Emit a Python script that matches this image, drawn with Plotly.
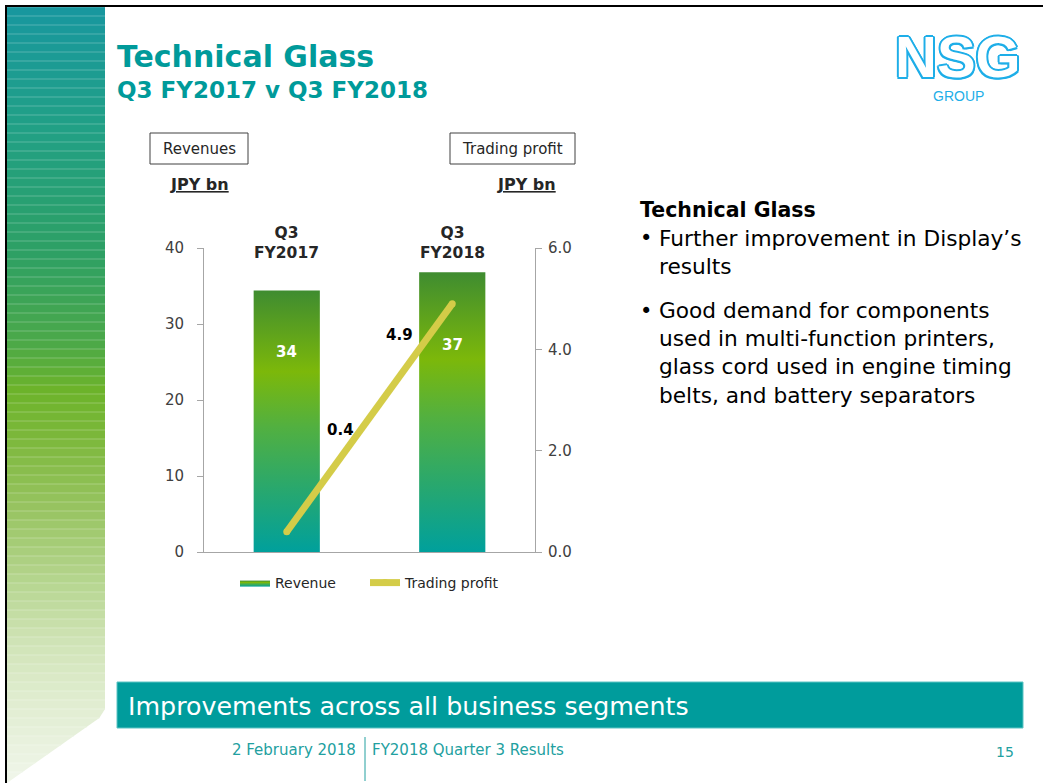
import plotly.graph_objects as go

# ── Slide data ───────────────────────────────────────────────────────────────
quarters       = ["Q3", "Q3"]
years          = ["FY2017", "FY2018"]
revenue        = [34.4, 36.8]     # JPY bn, left axis
trading_profit = [0.4, 4.9]       # JPY bn, right axis

heading = "Technical Glass"
bullets = [
    "Further improvement in Display’s<br>results",
    "Good demand for components<br>used in multi-function printers,<br>"
    "glass cord used in engine timing<br>belts, and battery separators",
]

# ── Look ─────────────────────────────────────────────────────────────────────
W, H      = 1043, 783
FONT      = "DejaVu Sans"
TEAL      = "#009a9a"
YELLOW    = "#d4cc48"
AXIS_GRAY = "#a6a6a6"
DARK      = "#262626"
LOGO_BLUE = "#1eaee8"

BAR_HALF  = 0.2
BAR_SCALE = [[0.0, "#00a09c"], [0.25, "#2aa86c"], [0.48, "#52b040"],
             [0.69, "#7cb80a"], [1.0, "#3f8c30"]]

# label offsets (px), as PowerPoint placed them
REV_SHIFT = [-61, -73]
TP_SHIFT  = [(54, 102), (-53, -31)]

# left decorative strip colour stops (pixel y, colour)
STRIP = [(7, "#18979f"), (130, "#21a085"), (250, "#2da065"), (340, "#4aa84a"),
         (390, "#6cb32a"), (440, "#7db83c"), (510, "#98c462"), (580, "#b5d58e"),
         (640, "#cfe3b5"), (700, "#e0edd0"), (783, "#f0f6ea")]


def px(x):
    return x / W


def py(y):
    return 1 - y / H


def _hex(c):
    c = c.lstrip("#")
    return [int(c[i:i + 2], 16) for i in (0, 2, 4)]


def strip_color(y, lift=0.0):
    for (y0, c0), (y1, c1) in zip(STRIP[:-1], STRIP[1:]):
        if y0 <= y <= y1:
            t = (y - y0) / (y1 - y0)
            a, b = _hex(c0), _hex(c1)
            rgb = [round((1 - t) * p + t * q) for p, q in zip(a, b)]
            rgb = [round(v + (255 - v) * lift) for v in rgb]
            return "rgb({},{},{})".format(*rgb)
    return STRIP[-1][1]


def note(text, x, y, size, color=DARK, bold=False, xanchor="left",
         yanchor="middle", family=FONT, **kw):
    return dict(
        text=f"<b>{text}</b>" if bold else text,
        x=px(x), y=py(y), xref="paper", yref="paper",
        xanchor=xanchor, yanchor=yanchor, showarrow=False, align="left",
        font=dict(size=size, color=color, family=family, **kw.pop("font", {})),
        **kw,
    )


def legend_at(x):
    return dict(orientation="h", x=px(x), y=py(583), xanchor="left",
                yanchor="middle", bgcolor="rgba(0,0,0,0)",
                font=dict(size=14, color=DARK, family=FONT))


# ── Chart ────────────────────────────────────────────────────────────────────
fig = go.Figure()

for i, v in enumerate(revenue):
    fig.add_trace(go.Scatter(
        x=[i - BAR_HALF, i - BAR_HALF, i + BAR_HALF, i + BAR_HALF, i - BAR_HALF],
        y=[0, v, v, 0, 0],
        mode="lines", line=dict(width=0), fill="toself",
        fillgradient=dict(type="vertical", colorscale=BAR_SCALE),
        name="Revenue", legendgroup="rev", showlegend=(i == 0),
        legend="legend", hoverinfo="skip",
    ))

fig.add_trace(go.Scatter(
    x=list(range(len(trading_profit))), y=trading_profit, yaxis="y2",
    mode="lines+markers", name="Trading profit", legend="legend2",
    line=dict(color=YELLOW, width=7), marker=dict(color=YELLOW, size=7),
    hovertemplate="%{y:.1f}<extra>Trading profit</extra>",
))

annotations = []

# category labels above the plot
for i, (q, y) in enumerate(zip(quarters, years)):
    annotations.append(dict(
        text=f"<b>{q}<br>{y}</b>", x=i, xref="x", y=py(222), yref="paper",
        showarrow=False, font=dict(size=15.5, color=DARK, family=FONT),
    ))

# revenue labels inside the bars
for i, (v, dy) in enumerate(zip(revenue, REV_SHIFT)):
    annotations.append(dict(
        text=f"<b>{v:.0f}</b>", x=i, y=v, xref="x", yref="y", yshift=dy,
        showarrow=False, font=dict(size=15, color="white", family=FONT),
    ))

# trading profit labels
for i, (v, (dx, dy)) in enumerate(zip(trading_profit, TP_SHIFT)):
    annotations.append(dict(
        text=f"<b>{v:.1f}</b>", x=i, y=v, xref="x", yref="y2",
        xshift=dx, yshift=dy, showarrow=False,
        font=dict(size=15, color="black", family=FONT),
    ))

# ── Slide furniture ──────────────────────────────────────────────────────────
annotations += [
    note("Technical Glass", 115, 56, 30, color=TEAL, bold=True),
    note("Q3 FY2017 v Q3 FY2018", 115, 90, 23, color=TEAL, bold=True),
    note("NSG", 958, 57, 58, color="white", bold=True, xanchor="center",
         family="Liberation Sans",
         font=dict(shadow=", ".join(f"{a}px {b}px 0 {LOGO_BLUE}" for a, b in
                                    [(2, 0), (-2, 0), (0, 2), (0, -2),
                                     (1.5, 1.5), (-1.5, 1.5), (1.5, -1.5), (-1.5, -1.5)]))),
    note("GROUP", 958, 96, 14, color=LOGO_BLUE, xanchor="center",
         family="Liberation Sans"),
    note("Revenues", 199, 149, 15, xanchor="center"),
    note("Trading profit", 512, 149, 15, xanchor="center"),
    note("JPY bn", 199, 184, 16, bold=True, xanchor="center",
         font=dict(lineposition="under")),
    note("JPY bn", 526, 184, 16, bold=True, xanchor="center",
         font=dict(lineposition="under")),
    note(heading, 638, 210, 20.5, color="black", bold=True),
    note("Improvements across all business segments", 126, 706, 25.3, color="white"),
    note("2 February 2018", 358, 750, 15, color="#22a0a0", xanchor="right"),
    note("FY2018 Quarter 3 Results", 370, 750, 15, color="#22a0a0"),
    note("15", 1016, 752, 14, color="#22a0a0", xanchor="right"),
]

BULLET_Y = [252, 353]
for txt, yc in zip(bullets, BULLET_Y):
    n_lines = txt.count("<br>") + 1
    top = yc - n_lines * 27.8 / 2
    annotations.append(note("•", 638, top + 14, 21, color="black"))
    annotations.append(note(txt, 657, yc, 21.7, color="black"))

shapes = []

# left strip, banded like the slide master
step = 9
y = 7
while y < H:
    y1 = min(y + step, H)

    def xr(yy):
        return 105 if yy <= 714 else max(7, 105 - (yy - 714) * 98 / 69)

    path = (f"M{px(7)},{py(y)} L{px(xr(y))},{py(y)} "
            f"L{px(xr(y1))},{py(y1)} L{px(7)},{py(y1)} Z")
    shapes.append(dict(type="path", path=path, xref="paper", yref="paper",
                       fillcolor=strip_color(y + step / 2), line=dict(width=0),
                       layer="below"))
    shapes.append(dict(type="line", xref="paper", yref="paper",
                       x0=px(7), x1=px(xr(y)), y0=py(y), y1=py(y),
                       line=dict(color=strip_color(y, lift=0.25), width=1),
                       layer="below"))
    y = y1

shapes += [
    # page edges
    dict(type="line", xref="paper", yref="paper", x0=px(6), x1=px(6),
         y0=py(5), y1=py(H), line=dict(color="black", width=2)),
    dict(type="line", xref="paper", yref="paper", x0=px(5), x1=1,
         y0=py(6), y1=py(6), line=dict(color="black", width=2)),
    # axis caption boxes
    dict(type="rect", xref="paper", yref="paper", x0=px(150), x1=px(248),
         y0=py(133), y1=py(164), line=dict(color="#404040", width=1)),
    dict(type="rect", xref="paper", yref="paper", x0=px(450), x1=px(575),
         y0=py(133), y1=py(164), line=dict(color="#404040", width=1)),
    # message banner
    dict(type="rect", xref="paper", yref="paper", x0=px(117), x1=px(1023),
         y0=py(682), y1=py(728), fillcolor="#009c9c",
         line=dict(color="#5cc4c4", width=1), layer="below"),
    # footer divider
    dict(type="line", xref="paper", yref="paper", x0=px(365), x1=px(365),
         y0=py(737), y1=py(781), line=dict(color="#22a0a0", width=1)),
]

axis_common = dict(
    showgrid=False, zeroline=False, showline=True, linecolor=AXIS_GRAY,
    linewidth=1, ticks="outside", ticklen=6, tickcolor=AXIS_GRAY,
    tickfont=dict(size=15, color="#404040", family=FONT), fixedrange=True,
    automargin=False,
)

fig.update_layout(
    width=W, height=H,
    margin=dict(l=0, r=0, t=0, b=0, autoexpand=False),
    paper_bgcolor="white", plot_bgcolor="rgba(0,0,0,0)",
    font=dict(family=FONT, color=DARK),
    xaxis=dict(domain=[px(204), px(535)], range=[-0.5, len(revenue) - 0.5],
               showgrid=False, zeroline=False, showline=True, linecolor=AXIS_GRAY,
               showticklabels=False, ticks="", fixedrange=True, automargin=False),
    yaxis=dict(domain=[py(552), py(248)], range=[0, 40], dtick=10,
               ticklabelstandoff=10, **axis_common),
    yaxis2=dict(overlaying="y", side="right", range=[0, 6], dtick=2,
                tickformat=".1f", ticklabelstandoff=3, **axis_common),
    showlegend=True,
    legend=legend_at(235),
    legend2=legend_at(365),
    annotations=annotations,
    shapes=shapes,
)

fig.write_html("out.html", config={"displayModeBar": False},
               post_script="document.body.style.margin='0';")
